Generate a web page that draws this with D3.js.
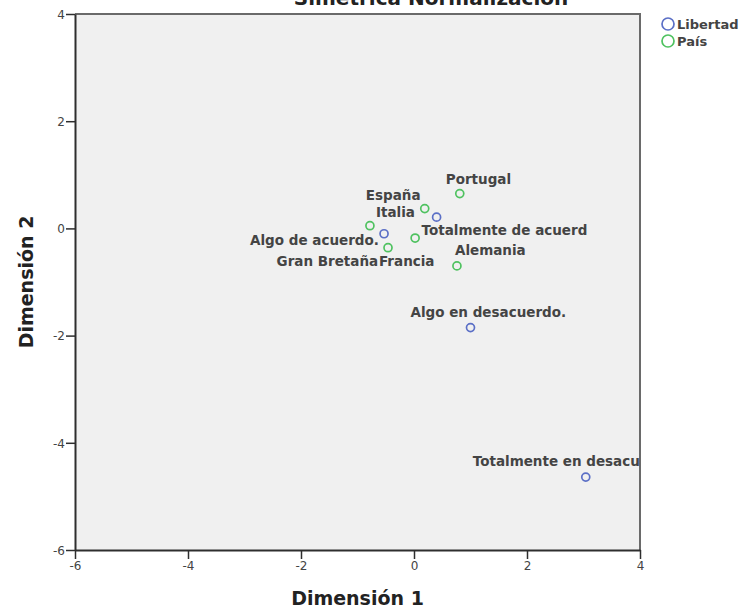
<!DOCTYPE html>
<html>
<head>
<meta charset="utf-8">
<script src="https://cdn.jsdelivr.net/npm/d3@7"></script>
<style>
  html, body { margin: 0; padding: 0; background: #ffffff; }
  svg { display: block; }
</style>
</head>
<body>
<svg id="chart" width="743" height="611"></svg>
<script>
// ---- data ----
const titleText = "Simétrica Normalización";
const xTitle = "Dimensión 1";
const yTitle = "Dimensión 2";
const seriesNames = ["Libertad", "País"];

const libertadLabels = ["Totalmente de acuerdo.", "Algo de acuerdo.", "Algo en desacuerdo.", "Totalmente en desacuerdo."];
const libertadDim1 = [0.40, -0.53, 1.00, 3.04];
const libertadDim2 = [0.21, -0.10, -1.85, -4.64];

const paisLabels = ["Portugal", "España", "Italia", "Gran Bretaña", "Francia", "Alemania"];
const paisDim1 = [0.81, 0.19, -0.78, 0.02, -0.46, 0.76];
const paisDim2 = [0.65, 0.37, 0.05, -0.18, -0.36, -0.70];

const xTicks = [-6, -4, -2, 0, 2, 4];
const yTicks = [-6, -4, -2, 0, 2, 4];

// ---- layout (label offsets in px, relative to point; anchor) ----
const libertadLabelOffsets = [[-15, 18, "start"], [-134, 11, "start"], [-60, -11, "start"], [-113, -11, "start"]];
const paisLabelOffsets = [[-14, -10, "start"], [-59, -9, "start"], [6, -9, "start"], [-37, 28, "end"], [-9, 18, "start"], [-2, -11, "start"]];
const colors = ["#5b6fc6", "#4fc260"];
const maxLabelChars = 20;

const svg = d3.select("#chart");
const pLeft = 75, pRight = 640, pTop = 14, pBottom = 550;

const x = d3.scaleLinear().domain([-6, 4]).range([pLeft, pRight]);
const y = d3.scaleLinear().domain([-6, 4]).range([pBottom, pTop]);

// plot background
svg.append("rect")
  .attr("x", pLeft).attr("y", pTop)
  .attr("width", pRight - pLeft).attr("height", pBottom - pTop)
  .attr("fill", "#f0f0f0");

// top & right frame
svg.append("path")
  .attr("d", `M${pLeft},${pTop}H${pRight}V${pBottom}`)
  .attr("fill", "none").attr("stroke", "#6a6a6a").attr("stroke-width", 2);

// axes
const fontTick = "'DejaVu Sans', sans-serif";
const xAxis = svg.append("g")
  .attr("transform", `translate(0,${pBottom})`)
  .call(d3.axisBottom(x).tickValues(xTicks).tickFormat(d => String(d)).tickSize(9).tickSizeOuter(0));
const yAxis = svg.append("g")
  .attr("transform", `translate(${pLeft},0)`)
  .call(d3.axisLeft(y).tickValues(yTicks).tickFormat(d => String(d)).tickSize(9).tickSizeOuter(0));

[xAxis, yAxis].forEach(g => {
  g.select(".domain").attr("stroke", "#2e2e2e").attr("stroke-width", 2);
  g.selectAll(".tick line").attr("stroke", "#2e2e2e").attr("stroke-width", 1.5);
  g.selectAll(".tick text")
    .attr("font-family", fontTick).attr("font-size", 12).attr("fill", "#444");
});
xAxis.selectAll(".tick text").attr("y", 11).attr("dy", "0.71em");
yAxis.selectAll(".tick text").attr("x", -10).attr("dy", "0.36em");

// clip for labels
svg.append("clipPath").attr("id", "plotClip")
  .append("rect").attr("x", pLeft).attr("y", pTop)
  .attr("width", pRight - pLeft).attr("height", pBottom - pTop);

const labelFont = "'DejaVu Sans', sans-serif";

function drawSeries(labels, d1, d2, offsets, color) {
  const data = labels.map((l, i) => ({ label: l, x: d1[i], y: d2[i], off: offsets[i] }));
  const g = svg.append("g");
  g.selectAll("circle").data(data).join("circle")
    .attr("cx", d => x(d.x)).attr("cy", d => y(d.y))
    .attr("r", 4)
    .attr("fill", "none").attr("stroke", color).attr("stroke-width", 1.7);
  g.append("g").attr("clip-path", "url(#plotClip)")
    .selectAll("text").data(data).join("text")
    .attr("x", d => x(d.x) + d.off[0])
    .attr("y", d => y(d.y) + d.off[1])
    .attr("text-anchor", d => d.off[2])
    .attr("font-family", labelFont).attr("font-size", 13.5).attr("font-weight", "bold")
    .attr("fill", "#444")
    .text(d => d.label.slice(0, maxLabelChars));
}

drawSeries(libertadLabels, libertadDim1, libertadDim2, libertadLabelOffsets, colors[0]);
drawSeries(paisLabels, paisDim1, paisDim2, paisLabelOffsets, colors[1]);

// title (cut off at top, as in the reference)
svg.append("text")
  .attr("x", 431).attr("y", 5)
  .attr("text-anchor", "middle")
  .attr("font-family", labelFont).attr("font-size", 20).attr("font-weight", "bold")
  .attr("fill", "#222")
  .text(titleText);

// axis titles
svg.append("text")
  .attr("x", (pLeft + pRight) / 2).attr("y", 605)
  .attr("text-anchor", "middle")
  .attr("font-family", labelFont).attr("font-size", 19).attr("font-weight", "bold")
  .attr("fill", "#222")
  .text(xTitle);

svg.append("text")
  .attr("transform", `translate(33,${(pTop + pBottom) / 2}) rotate(-90)`)
  .attr("text-anchor", "middle")
  .attr("font-family", labelFont).attr("font-size", 19).attr("font-weight", "bold")
  .attr("fill", "#222")
  .text(yTitle);

// legend
const legend = svg.append("g");
seriesNames.forEach((name, i) => {
  legend.append("circle")
    .attr("cx", 668).attr("cy", 24 + i * 17).attr("r", 6)
    .attr("fill", "none").attr("stroke", colors[i]).attr("stroke-width", 1.7);
  legend.append("text")
    .attr("x", 677).attr("y", 29 + i * 17)
    .attr("font-family", labelFont).attr("font-size", 13).attr("font-weight", "bold")
    .attr("fill", "#444")
    .text(name);
});
</script>
</body>
</html>
